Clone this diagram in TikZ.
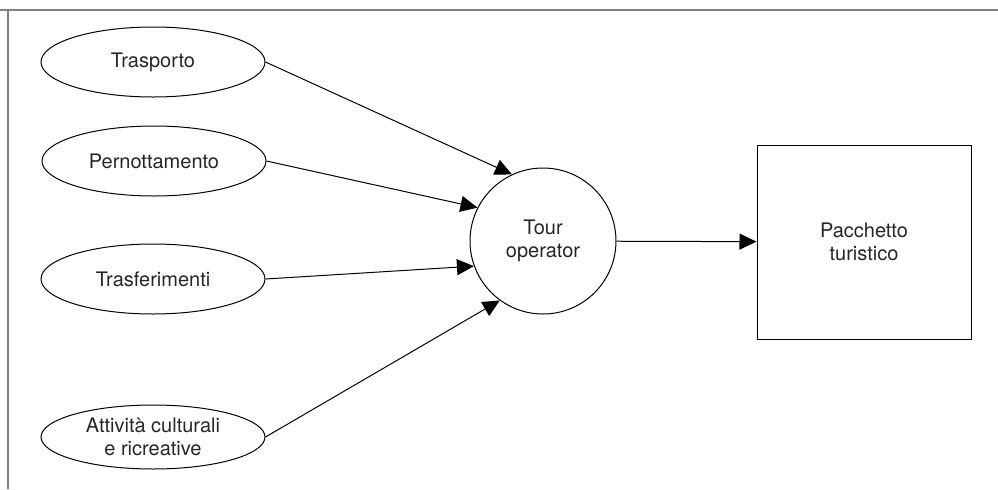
\documentclass[tikz,border=0pt]{standalone}
\usepackage{fontspec}
\setmainfont{TeX Gyre Heros}
\usetikzlibrary{arrows.meta,shapes.geometric}

\begin{document}
\begin{tikzpicture}[x=0.5pt, y=-0.5pt,
	every node/.style={font=\fontsize{10}{11.5}\selectfont, text=black!85, align=center, inner sep=0pt},
	src/.style={ellipse, draw, line width=0.5pt, minimum width=112pt, minimum height=35pt},
	>={Triangle[length=8.5pt, width=8pt]}]
	\useasboundingbox (0,0) rectangle (998,489);
	\draw[gray, line width=1pt] (0,10) -- (998,10) (8,10) -- (8,489);
	\node[src] (tra) at (153,62) {Trasporto};
	\node[src] (per) at (154,161) {Pernottamento};
	\node[src] (trf) at (153,279) {Trasferimenti};
	\node[src, minimum height=32pt] (att) at (153,437) {Attività culturali\\ e ricreative};
	\node[circle, draw, line width=0.5pt, minimum size=73pt] (to) at (543,241) {Tour\\ operator};
	\node[rectangle, draw, line width=0.5pt, minimum width=107pt, minimum height=97pt] (pt) at (864,242) {Pacchetto\\ turistico};
	\draw[->, line width=0.5pt] (tra.east) -- (to.115);
	\draw[->, line width=0.5pt] (per.east) -- (to.153);
	\draw[->, line width=0.5pt] (trf.east) -- (to.200);
	\draw[->, line width=0.5pt] (att.east) -- (to.234);
	\draw[->, line width=0.5pt] (to) -- (pt);
\end{tikzpicture}
\end{document}
